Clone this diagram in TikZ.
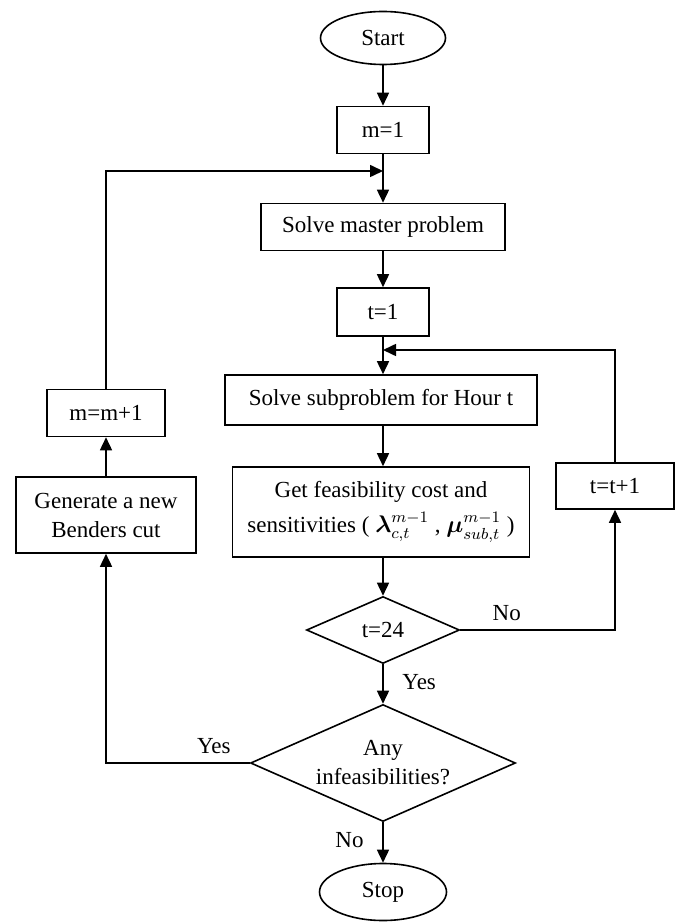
\documentclass[tikz,border=0pt]{standalone}
\usepackage{amsmath}
\usepackage{bm}
\usepackage{fontspec}
\setmainfont{Liberation Serif}
\usetikzlibrary{positioning,shapes.geometric,arrows.meta}

\begin{document}
\begin{tikzpicture}[x=0.5pt,y=-0.5pt,line width=0.8pt,
  font=\fontsize{11.5}{14.5}\selectfont,
  mybox/.style = {draw=black, rectangle, inner sep=0pt, align=center},
  mydiamond/.style = {draw=black, diamond, aspect=2.26, inner sep=0pt, align=center},
  myterm/.style = {draw=black, ellipse, inner sep=0pt},
  myarrow/.style = {-{Triangle[length=6.5pt,width=6pt]}}]
\useasboundingbox (0,0) rectangle (678,924);
% main column
\node[myterm, minimum width=62.5pt, minimum height=26.5pt] (start) at (383,38) {Start};
\node[mybox, minimum width=46pt, minimum height=23.5pt] (m1) at (383,130) {m=1};
\node[mybox, minimum width=122pt, minimum height=23.5pt] (master) at (383,227) {Solve master problem};
\node[mybox, minimum width=46pt, minimum height=24pt] (t1) at (383,312) {t=1};
\node[mybox, minimum width=156pt, minimum height=25pt] (sub) at (381,400) {Solve subproblem for Hour t};
\node[mybox, minimum width=148.5pt, minimum height=45pt] (feas) at (381,512)
  {Get feasibility cost and\\[3pt] sensitivities ( $\bm{\lambda}_{c,t}^{m-1}$ , $\bm{\mu}_{sub,t}^{m-1}$ )};
\node[mydiamond, minimum width=76.5pt, minimum height=33.5pt] (t24) at (383,630) {t=24};
\node[mydiamond, minimum width=132.5pt, minimum height=58.5pt] (any) at (383,763) {Any\\infeasibilities?};
\node[myterm, minimum width=63.5pt, minimum height=28.5pt] (stop) at (383,892) {Stop};
% side boxes
\node[mybox, minimum width=59pt, minimum height=23pt] (tinc) at (615,486) {t=t+1};
\node[mybox, minimum width=90pt, minimum height=38pt] (gen) at (106,515) {Generate a new\\Benders cut};
\node[mybox, minimum width=59pt, minimum height=23.5pt] (minc) at (106,413) {m=m+1};
\coordinate (jm) at (383,171);
\coordinate (jt) at (383,350);
% connectors
\draw[myarrow] (start) -- (m1);
\draw[myarrow] (m1) -- (master);
\draw[myarrow] (master) -- (t1);
\draw[myarrow] (t1) -- (t1 |- sub.north);
\draw[myarrow] (sub.south -| t1) -- (feas.north -| t1);
\draw[myarrow] (feas.south -| t1) -- (t24);
\draw[myarrow] (t24) -- node[right=6pt, pos=0.45] {Yes} (any);
\draw[myarrow] (any) -- node[left=6pt, pos=0.45] {No} (stop);
\draw[myarrow] (t24.east) -- node[above=1pt, pos=0.3] {No} (t24.east -| tinc) -- (tinc.south);
\draw[myarrow] (tinc.north) |- (jt);
\draw[myarrow] (any.west) -- node[above=1pt, pos=0.25] {Yes} (any.west -| gen) -- (gen.south);
\draw[myarrow] (gen) -- (minc);
\draw[myarrow] (minc.north) |- (jm);
\end{tikzpicture}
\end{document}
